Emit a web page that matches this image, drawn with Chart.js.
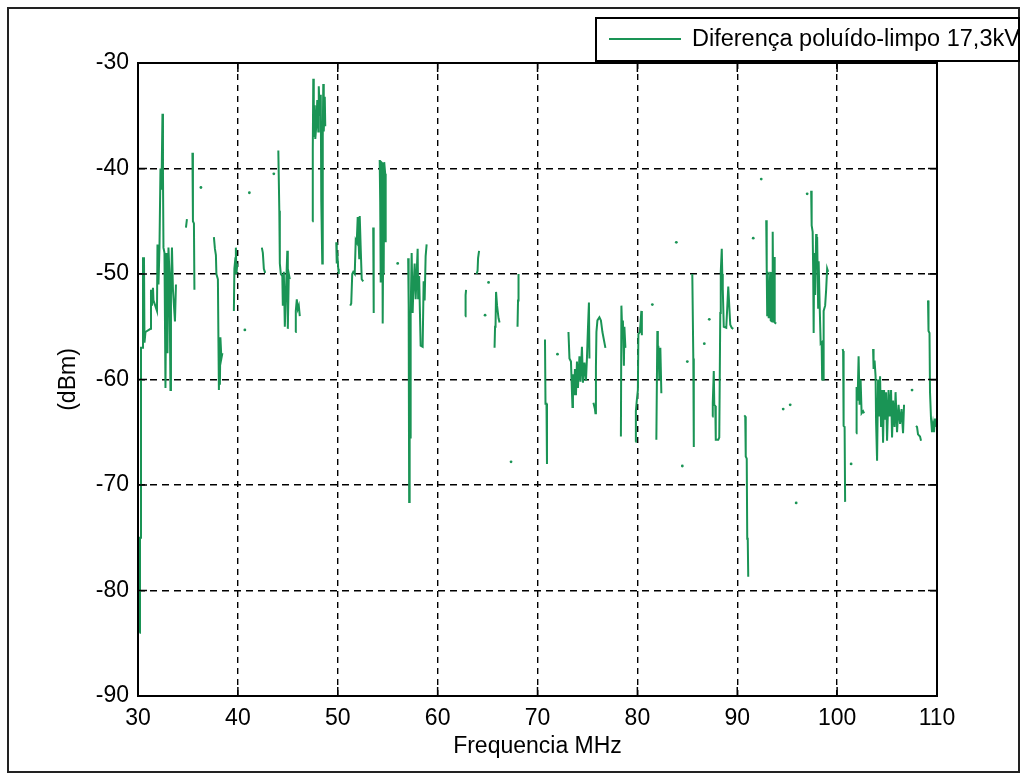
<!DOCTYPE html>
<html lang="pt">
<head>
<meta charset="utf-8">
<title>Diferença poluído-limpo 17,3kV</title>
<script src="https://cdn.jsdelivr.net/npm/chart.js@4/dist/chart.umd.min.js"></script>
<style>
  html, body { margin: 0; padding: 0; background: #fff; }
  #quadro { width: 1022px; height: 774px; }
</style>
</head>
<body>
<div id="quadro"><canvas id="grafico" width="1022" height="774"></canvas></div>
<script>
const xTicks = [30, 40, 50, 60, 70, 80, 90, 100, 110];
const yTicks = [-90, -80, -70, -60, -50, -40, -30];
const nomeSerie = 'Diferença poluído-limpo 17,3kV';

// trace; null = trecho sem dado
const freqMHz = [
  30.15,30.2,30.25,30.3,30.45,30.5,30.6,30.65,30.75,31.25,31.3,31.4,31.5,31.55,31.9,31.95,32.05,32.15,32.25,32.35,32.45,32.5,32.55,32.65,32.75,32.85,32.95,33.05,33.15,33.25,33.3,33.4,33.5,33.6,33.7,33.8, null,
  34.8,34.9, null,
  35.45,35.5,35.6,35.65, null,
  37.6,37.7,37.8,37.85,38.0,38.05,38.1,38.15,38.2,38.25,38.35,38.45, null,
  39.6,39.65,39.75,39.8,39.85,39.95, null,
  42.4,42.5,42.6,42.7,42.8, null,
  44.05,44.15,44.2,44.3,44.45,44.5,44.6,44.7,44.8,44.95,45.0,45.1,45.2, null,
  45.75,45.8,45.9,46.0,46.1,46.2, null,
  47.45,47.5,47.55,47.6,47.7,47.75,47.85,47.95,48.05,48.1,48.2,48.3,48.35,48.45,48.5,48.55,48.6,48.7,48.75, null,
  49.85,49.9,49.95,50.05,50.1, null,
  51.25,51.35,51.45,51.55,51.7,51.8,51.9,52.0,52.05,52.15,52.2,52.3,52.4,52.55, null,
  53.55,53.6, null,
  54.2,54.25,54.3,54.35,54.45,54.5,54.55,54.6,54.65,54.75,54.8, null,
  57.05,57.1,57.15,57.2,57.25,57.3,57.4,57.5,57.55,57.7,57.8,57.9,58.0,58.05,58.15,58.3,58.5,58.6,58.7,58.8,58.9, null,
  62.75,62.8,62.85, null,
  63.9,64.0,64.05,64.15, null,
  65.7,65.75,65.8,65.85,65.95,66.1,66.2, null,
  68.0,68.05,68.1, null,
  70.75,70.8,70.9,70.95, null,
  73.1,73.2,73.35,73.5,73.55,73.65,73.75,73.85,73.95,74.05,74.2,74.3,74.45,74.55,74.7,74.85,74.95,75.05,75.15,75.2, null,
  75.6,75.75,75.8,75.85,75.9,76.0,76.2,76.35,76.5,76.7,76.8, null,
  78.35,78.4,78.5,78.55,78.65,78.7,78.8, null,
  79.8,79.85,79.95,80.05,80.1,80.25,80.4,80.45, null,
  81.9,82.0,82.05,82.1,82.2,82.3,82.4, null,
  85.5,85.55,85.6,85.65, null,
  87.5,87.55,87.65,87.7,87.8,87.85,88.1,88.2,88.3,88.35,88.45,88.5,88.55,88.65,88.9,89.1,89.3,89.45,89.6, null,
  90.7,90.8,90.85,90.95,91.0,91.05,91.1, null,
  92.9,92.95,93.0,93.05,93.15,93.3,93.35,93.5,93.55,93.6,93.7,93.75,93.9, null,
  97.4,97.45,97.55,97.6,97.65,97.7,97.8,97.9,97.95,98.0,98.1,98.15,98.25,98.35,98.45,98.5,98.6,98.65,98.8,98.9,99.0,99.1, null,
  100.55,100.6,100.65,100.75,100.8, null,
  101.9,101.95,102.05,102.15,102.25,102.35,102.45,102.6,102.7, null,
  103.6,103.65,103.75,103.85,103.9,104.0,104.1,104.2,104.3,104.4,104.5,104.6,104.7,104.8,104.9,105.0,105.15,105.25,105.4,105.5,105.6,105.75,105.85,106.0,106.15,106.3,106.45,106.6,106.7, null,
  107.9,108.0,108.1,108.3,108.4, null,
  109.1,109.15,109.25,109.3,109.4,109.5,109.6,109.7,109.8,109.9
];
const difDbm = [
  -84,-75,-75,-57,-57,-48.5,-48.5,-56.5,-55.5,-55.2,-51.5,-53,-51.3,-52.5,-53.5,-47.2,-51,-47.5,-40,-42,-34.8,-40.5,-47.5,-48,-60.8,-48,-57.5,-47.5,-50,-61,-52,-47.5,-51.5,-53,-54.5,-51, null,
  -45.6,-44.8, null,
  -38.5,-45,-45.2,-51.5, null,
  -46.5,-47.6,-48.2,-50,-50.5,-56,-61,-57,-60.5,-56,-58,-57.5, null,
  -53.5,-49.5,-48.5,-47.5,-50,-49, null,
  -47.5,-48,-49.5,-49.8,-49.8, null,
  -38.3,-44,-49,-50,-50.2,-53,-49.8,-55,-52,-47.8,-55.2,-50,-50.5, null,
  -55.5,-53.5,-52.4,-53.3,-53,-54, null,
  -45,-38.2,-31.5,-37,-34,-37.2,-36,-33.5,-36.5,-32.2,-35,-33,-43,-49,-37,-32,-36.5,-33.2,-36, null,
  -47,-49,-48,-49.5,-50, null,
  -53,-52.8,-50,-49.8,-50,-46.8,-47,-44.6,-46,-48.5,-44.5,-47.6,-50.5,-50.7, null,
  -45.6,-53.7, null,
  -39.2,-43.2,-50.8,-39.4,-39.5,-54.7,-47,-50,-39.4,-40.5,-47, null,
  -48.5,-53,-71.6,-60,-65.5,-53.7,-48,-53.7,-52,-49,-52.4,-50,-47.6,-52.4,-50.2,-56.8,-56.9,-50.7,-52.5,-48.3,-47.2, null,
  -54,-52,-51.5, null,
  -50,-49.7,-48.5,-47.8, null,
  -57,-55,-54.8,-51.7,-53,-54.2,-54.6, null,
  -55,-52.5,-50, null,
  -56.2,-62.3,-62.3,-68, null,
  -55.5,-58,-58.3,-62.6,-59.5,-61.5,-59,-61.5,-58.3,-60.8,-57.8,-60.2,-56.9,-60.3,-58.4,-60.1,-58,-55.2,-52.7,-58, null,
  -62.2,-62.8,-63.2,-58.8,-55.5,-54.4,-54.1,-54.4,-55.5,-56.5,-57, null,
  -65.4,-53,-56,-54.4,-58.7,-55,-57, null,
  -65.9,-63,-61.9,-61,-55.7,-55.5,-53.5,-55.8, null,
  -65.7,-55.4,-58,-56.8,-60,-57,-61.3, null,
  -50,-50,-58,-66.4, null,
  -63.5,-62.2,-59.2,-62.4,-62.5,-65.7,-65.7,-65.5,-53.7,-49.8,-47.6,-50,-51.4,-55,-55.1,-51.2,-54.8,-55.1,-55.2, null,
  -63.4,-63.5,-67.3,-67.5,-75.1,-75,-78.7, null,
  -44.9,-49.5,-53.9,-49.8,-54.2,-49.8,-54.4,-54.5,-46,-52.2,-48.4,-54.6,-54.7, null,
  -42.1,-45.4,-46,-49.5,-55.6,-48,-52,-46.2,-48.5,-46.5,-53.2,-48.8,-52.9,-56.6,-56.5,-60,-60,-53.5,-53,-51.5,-49.5,-49.8, null,
  -57.1,-57.3,-64.4,-64.5,-71.6, null,
  -65.1,-60.7,-62,-57.8,-62.4,-60,-63.2,-63,-63.2, null,
  -57.1,-59,-58.2,-59.7,-64,-67.7,-60,-63.5,-59.7,-64.5,-61,-66,-61,-63.8,-61.2,-65.8,-61,-63.5,-61,-65.5,-62,-64.5,-61.2,-65,-62.4,-64.2,-62.8,-65.1,-62.4, null,
  -64.4,-64.5,-65.2,-65.4,-65.8, null,
  -52.5,-55.4,-55.6,-61.2,-63.7,-65,-64.2,-65,-63.7,-64.5
];

// amostras isoladas (pontinhos soltos)
const pontosFreq = [36.3, 40.7, 41.15, 43.6, 56.0, 64.75, 65.1, 67.35, 72.0, 81.5, 83.9, 84.5, 85.0, 86.7, 87.2, 91.6, 92.4, 94.6, 95.3, 95.9, 97.0, 101.4, 107.5];
const pontosDbm  = [-41.8, -55.3, -42.3, -40.5, -49, -53.9, -50.8, -67.8, -57.6, -52.9, -47, -68.2, -58.3, -56.6, -54.3, -46.6, -41, -62.8, -62.4, -71.7, -42.4, -68, -61];

const verde = '#1a9455';
const fonte = '"Liberation Sans", Arial, sans-serif';

const moldura = {
    id: 'moldura',
    beforeDraw(chart) {
        const ctx = chart.ctx;
        ctx.save();
        ctx.fillStyle = '#fff';
        ctx.fillRect(0, 0, chart.width, chart.height);
        ctx.restore();
    },
    afterDraw(chart) {
        const { ctx, chartArea: a, scales } = chart;
        ctx.save();
        ctx.setLineDash([]);
        ctx.strokeStyle = '#000';
        ctx.lineWidth = 1.5;

        // ticks para dentro, estilo matlab
        ctx.beginPath();
        xTicks.forEach(v => {
            const px = scales.x.getPixelForValue(v);
            ctx.moveTo(px, a.bottom); ctx.lineTo(px, a.bottom - 9);
            ctx.moveTo(px, a.top);    ctx.lineTo(px, a.top + 9);
        });
        yTicks.forEach(v => {
            const py = scales.y.getPixelForValue(v);
            ctx.moveTo(a.left, py);  ctx.lineTo(a.left + 9, py);
            ctx.moveTo(a.right, py); ctx.lineTo(a.right - 9, py);
        });
        ctx.stroke();

        ctx.lineWidth = 2;
        ctx.strokeRect(a.left, a.top, a.right - a.left, a.bottom - a.top);

        // borda da figura
        ctx.strokeStyle = '#222';
        ctx.strokeRect(8, 8, 1011, 764);

        // legenda
        const ds = chart.data.datasets[0];
        ctx.fillStyle = '#fff';
        ctx.fillRect(596, 18, 423, 43);
        ctx.strokeStyle = '#000';
        ctx.strokeRect(596, 18, 423, 43);
        ctx.strokeStyle = ds.borderColor;
        ctx.lineWidth = 2;
        ctx.beginPath();
        ctx.moveTo(609, 39); ctx.lineTo(681, 39);
        ctx.stroke();
        ctx.fillStyle = '#000';
        ctx.font = '23.5px ' + fonte;
        ctx.textBaseline = 'middle';
        ctx.fillText(ds.label, 692, 40);
        ctx.restore();
    }
};

const dadosLinha = freqMHz.map((f, i) => ({ x: f, y: difDbm[i] }));
const dadosPontos = pontosFreq.map((f, i) => ({ x: f, y: pontosDbm[i] }));

new Chart(document.getElementById('grafico'), {
    type: 'line',
    data: {
        datasets: [
            { label: nomeSerie, data: dadosLinha, borderColor: verde, borderWidth: 2, pointRadius: 0, spanGaps: false, tension: 0 },
            { type: 'scatter', label: 'pontos', data: dadosPontos, backgroundColor: verde, borderWidth: 0, pointRadius: 1.4 }
        ]
    },
    options: {
        responsive: false,
        animation: false,
        events: [],
        layout: { padding: { left: 0, top: 63, right: 85, bottom: 0 } },
        plugins: { legend: { display: false }, tooltip: { enabled: false } },
        scales: {
            x: {
                type: 'linear', min: 30, max: 110,
                afterBuildTicks: s => { s.ticks = xTicks.map(v => ({ value: v })); },
                afterFit: s => { s.height = 78; },
                ticks: { color: '#000', font: { family: fonte, size: 23 }, padding: 9, maxRotation: 0, autoSkip: false },
                grid: { color: '#000', lineWidth: 1.4, drawTicks: false },
                border: { display: false, dash: [6, 5] },
                title: { display: true, text: 'Frequencia MHz', color: '#000', font: { family: fonte, size: 23 }, padding: { top: 0, bottom: 14 } }
            },
            y: {
                type: 'linear', min: -90, max: -30,
                afterBuildTicks: s => { s.ticks = yTicks.map(v => ({ value: v })); },
                afterFit: s => { s.width = 138; },
                ticks: { color: '#000', font: { family: fonte, size: 23 }, padding: 9 },
                grid: { color: '#000', lineWidth: 1.4, drawTicks: false },
                border: { display: false, dash: [7, 5] },
                title: { display: true, text: '(dBm)', color: '#000', font: { family: fonte, size: 23 }, padding: { top: 55, bottom: 0 } }
            }
        }
    },
    plugins: [moldura]
});
</script>
</body>
</html>
